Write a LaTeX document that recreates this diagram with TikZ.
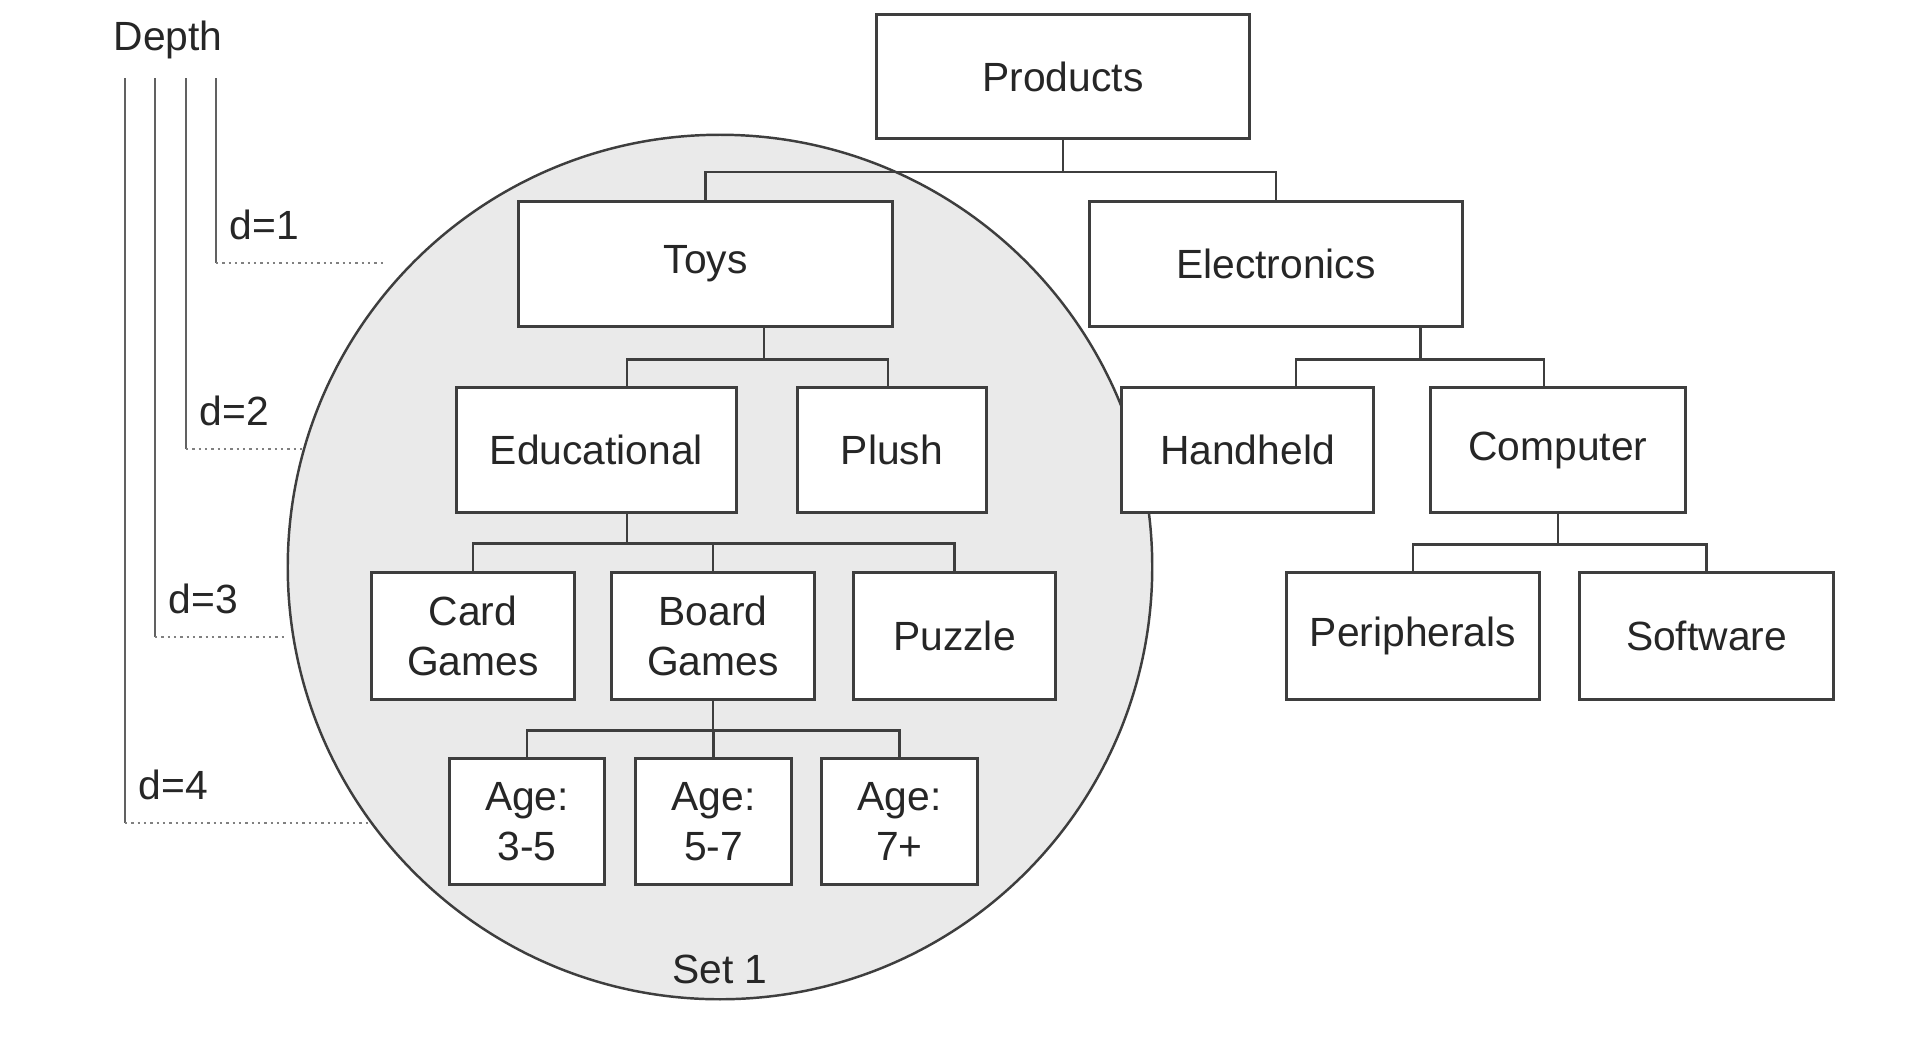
\documentclass[tikz,border=0pt]{standalone}
\usepackage{fontspec}
\setmainfont{Liberation Sans}
\usepackage{tikz}
\usetikzlibrary{calc,positioning}
\usepackage{xcolor}
\definecolor{setfill}{RGB}{234,234,234}
\definecolor{inkc}{RGB}{62,62,62}
\newcommand{\catfont}{\fontsize{11.6}{14.3}\selectfont}
\tikzset{
  cat/.style={rectangle,draw=inkc,fill=white,line width=0.85pt,inner sep=0pt,minimum height=1.24cm,align=center,font=\catfont,text=black!85},
  top/.style={cat,minimum width=3.73cm},
  leaf/.style={cat,minimum width=2.02cm,minimum height=1.26cm},
  age/.style={cat,minimum width=1.55cm,minimum height=1.25cm},
  link/.style={line width=0.8pt,inkc},
  setc/.style={circle,draw=inkc,fill=setfill,line width=0.7pt,inner sep=0pt,minimum size=8.64cm},
  tick/.style={line width=0.8pt,black!62},
  lvl/.style={line width=0.7pt,black!50,dash pattern=on 0.7pt off 1.1pt},
  lbl/.style={font=\catfont,text=black!85,inner sep=0pt},
}
\begin{document}
\begin{tikzpicture}[x=0.01cm,y=-0.01cm]
  \useasboundingbox (0,0) rectangle (1920,1047);
  % the set, behind the tree
  \node[setc] (set1) at (720,567) {};
  \node[lbl,anchor=base] (setlbl) at ([yshift=0.17cm]set1.south) {Set 1};
  % depth scale on the left
  \node[lbl,anchor=base west] (depth) at (113,50) {Depth};
  \foreach \d/\x/\y/\e in {1/216/263/385,2/186/449/303,3/155/637/287,4/125/823/370}{
    \coordinate (top\d) at (\x,78);
    \coordinate (lvl\d) at (\x,\y);
    \coordinate (end\d) at (\e,\y);
    \draw[tick] (top\d) -- (lvl\d);
    \draw[lvl] (lvl\d) -- (end\d);
    \node[lbl,anchor=base west] (dlbl\d) at ([xshift=0.13cm,yshift=0.24cm]lvl\d) {d=\d};
  }
  % category tree
  \node[top] (products) at (1063,76.5) {Products};
  \node[top] (toys) at (705.5,264) {Toys};
  \node[top] (elec) at (1276,264) {Electronics};
  \node[cat,minimum width=2.79cm] (educ) at (596.5,450) {Educational};
  \node[cat,minimum width=1.88cm] (plush) at (892,450) {Plush};
  \node[cat,minimum width=2.51cm] (hand) at (1247.5,450) {Handheld};
  \node[cat,minimum width=2.54cm] (comp) at (1558,450) {Computer};
  \node[leaf] (card) at (473,636) {Card\\Games};
  \node[leaf] (board) at (713,636) {Board\\Games};
  \node[leaf] (puzzle) at (954.5,636) {Puzzle};
  \node[leaf,minimum width=2.52cm] (periph) at (1413,636) {Peripherals};
  \node[leaf,minimum width=2.53cm] (soft) at (1706.5,636) {Software};
  \node[age] (age35) at (527,821.5) {Age:\\3-5};
  \node[age] (age57) at (713.5,821.5) {Age:\\5-7};
  \node[age] (age7) at (899.5,821.5) {Age:\\7+};
  % connectors
  \foreach \c in {toys,elec} \draw[link] (products.south) -- ++(0,32) -| (\c.north);
  \foreach \c/\dx in {educ/0.305cm,plush/-0.04cm} \draw[link] ([xshift=0.585cm]toys.south) -- ++(0,32) -| ([xshift=\dx]\c.north);
  \foreach \c/\dx in {hand/0.485cm,comp/-0.14cm} \draw[link] ([xshift=1.44cm]elec.south) -- ++(0,32) -| ([xshift=\dx]\c.north);
  \foreach \c in {card,board,puzzle} \draw[link] ([xshift=0.305cm]educ.south) -- ++(0,30) -| (\c.north);
  \foreach \c in {periph,soft} \draw[link] (comp.south) -- ++(0,31) -| (\c.north);
  \foreach \c in {age35,age57,age7} \draw[link] (board.south) -- ++(0,30) -| (\c.north);
\end{tikzpicture}
\end{document}
